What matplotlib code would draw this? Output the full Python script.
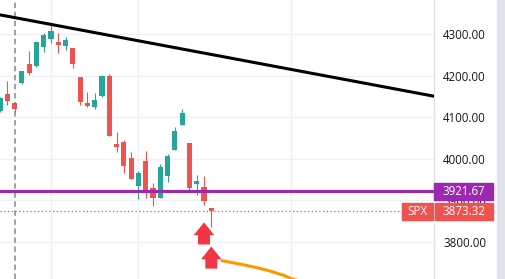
"""SPX daily candles with trendline, level and forecast"""
import matplotlib.pyplot as plt
from matplotlib.patches import Rectangle
import numpy as np

# candle data (index = bar number)
opens = [4115, 4156, 4134, 4182, 4228, 4223, 4269, 4288, 4281, 4271,
         4266, 4197, 4134, 4125, 4151, 4199, 4036, 4040, 4002, 3935,
         3995, 3930, 3906, 3959, 4021, 4081, 4038, 3939, 3932, 3882]
highs = [4148, 4187, 4136, 4212, 4259, 4281, 4302, 4326, 4302, 4293,
         4266, 4197, 4161, 4158, 4201, 4204, 4064, 4045, 4016, 3971,
         4019, 3942, 3988, 4012, 4076, 4120, 4038, 3961, 3959, 3882]
lows = [4113, 4129, 4113, 4179, 4201, 4221, 4257, 4278, 4254, 4262,
        4218, 4129, 4125, 4120, 4149, 4055, 4016, 3966, 3951, 3903,
        3906, 3887, 3906, 3944, 4021, 4081, 3920, 3913, 3889, 3836]
closes = [4146, 4139, 4120, 4211, 4206, 4281, 4298, 4307, 4274, 4286,
          4228, 4137, 4127, 4141, 4199, 4055, 4028, 3983, 3951, 3966,
          3923, 3906, 3980, 4007, 4067, 4110, 3930, 3947, 3899, 3873.32]

trend_idx = [0, 60]
trend_price = [4346, 4149]
level_price = 3921.67
last_price = 3873.32
forecast_idx = [30.5, 32.9, 35.1, 37.1, 38.9, 40.1, 41.2]
forecast_price = [3755, 3747, 3739, 3730, 3720, 3711, 3706]
arrow_idx = [28, 29]
arrow_tip = [3847, 3789]
vgrid_idx = [7, 19, 40]
marker_idx = 2
price_ticks = [3800, 3900, 4000, 4100, 4200, 4300]
cut_tick = 3700  # label half hidden below the chart

UP = '#26a69a'
DOWN = '#ef5350'
GRID = '#f0f1f4'
FONT = dict(fontsize=8.3, family='Open Sans')

fig = plt.figure(figsize=(5.05, 2.79), dpi=100)
ax = fig.add_axes([0, 0, 434 / 505, 1])
ax.set_xlim(0, 59.57)
ax.set_ylim(3711, 4381.7)

# grid
for p in price_ticks:
    ax.axhline(p, color=GRID, lw=1, zorder=0)
for v in vgrid_idx:
    ax.axvline(v, color=GRID, lw=1, zorder=0)
ax.axvline(marker_idx, color='#9598a1', lw=1.3, linestyle=(0, (3, 2)), zorder=1)

# candles
idx = np.arange(len(opens))
o, h, l, c = map(np.array, (opens, highs, lows, closes))
cols = np.where(c >= o, UP, DOWN)
ax.vlines(idx, l, h, colors=cols, lw=0.8, zorder=3)
ax.bar(idx, np.abs(c - o), bottom=np.minimum(o, c), width=0.69, color=cols, zorder=3)

# lines
ax.plot(trend_idx, trend_price, color='black', lw=2.2, zorder=4, solid_capstyle='butt')
ax.axhline(level_price, color='#9c27b0', lw=2.2, zorder=4)
ax.axhline(last_price, color=DOWN, lw=0.9, linestyle=(0, (1, 2)), zorder=2)
ax.plot(forecast_idx, forecast_price, color='#ff9800', lw=2.2, zorder=4)

# arrows
for ai, at in zip(arrow_idx, arrow_tip):
    hw, sw, hh, th = 1.41, 0.82, 30.5, 53
    xs = [ai, ai + hw, ai + sw, ai + sw, ai - sw, ai - sw, ai - hw]
    ys = [at, at - hh, at - hh, at - th, at - th, at - hh, at - hh]
    ax.fill(xs, ys, color='#f23645', lw=0, zorder=5)

# price axis
ax.yaxis.tick_right()
ax.set_yticks(price_ticks)
ax.set_yticklabels([f'{p:.2f}' for p in price_ticks], color='#131722', **FONT)
ax.tick_params(axis='y', length=0, pad=6.5)
ax.set_xticks([])
for s in ['top', 'left', 'bottom']:
    ax.spines[s].set_visible(False)
ax.spines['right'].set_color('#e0e3eb')
ax.spines['right'].set_linewidth(1)

tr = ax.get_yaxis_transform()
ax.text(443 / 434, cut_tick + 1, f'{cut_tick:.2f}', transform=tr, ha='left',
        va='center_baseline', color='#131722', clip_on=False, **FONT)

# price labels
px_h = (4381.7 - 3711) / 279
for x0, w, price, col, txt in [(1.0, 59 / 434, level_price, '#9c27b0', f'{level_price:.2f}'),
                               (1.002, 58.3 / 434, last_price, DOWN, f'{last_price:.2f}'),
                               (402 / 434, 31 / 434, last_price, DOWN, 'SPX')]:
    hgt = 17 * px_h
    ax.add_patch(Rectangle((x0, price - hgt / 2), w, hgt, transform=tr, color=col,
                           clip_on=False, zorder=10))
    ax.text(x0 + w / 2, price, txt, transform=tr, ha='center', va='center', color='white',
            zorder=11, clip_on=False, **FONT)

# right gray strip
fig.patches.append(Rectangle((497 / 505, 0), 8 / 505, 1, transform=fig.transFigure,
                             color='#e0e3eb', zorder=0))

fig.savefig('out.png', dpi=100)
